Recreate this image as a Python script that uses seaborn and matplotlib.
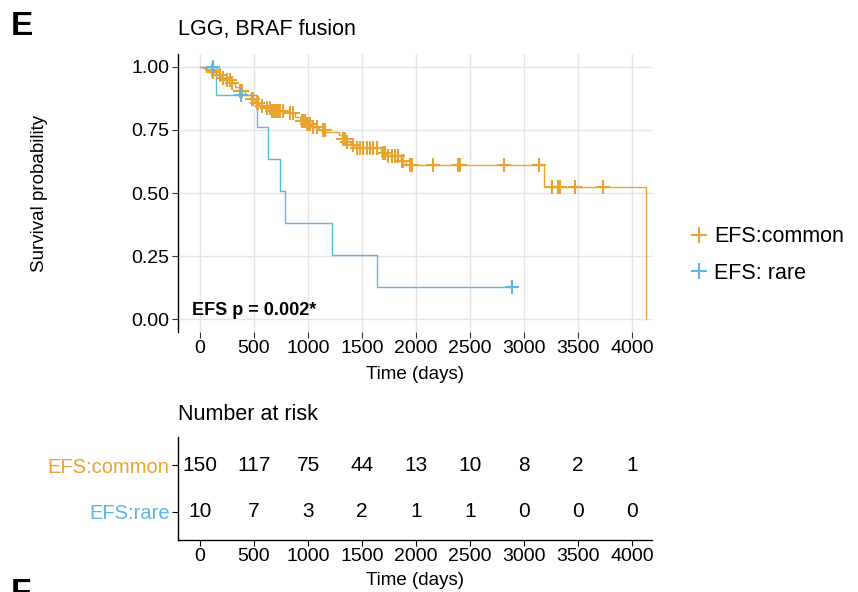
import numpy as np
import pandas as pd
import matplotlib
matplotlib.use("Agg")
import matplotlib.pyplot as plt
from matplotlib.lines import Line2D
import seaborn as sns

sns.set_theme(style="white")
plt.rcParams['font.family'] = ['Liberation Sans', 'DejaVu Sans']
plt.rcParams['text.color'] = 'black'
plt.rcParams['axes.labelcolor'] = 'black'
plt.rcParams['xtick.color'] = 'black'
plt.rcParams['ytick.color'] = 'black'

# ---------------- data ----------------
groups = ["EFS:common", "EFS: rare"]
risk_labels = ["EFS:common", "EFS:rare"]
colors = ["#E8A42E", "#5DB6E6"]

# common group: step curve (time, survival after step)
common_t = [0, 30, 60, 110, 150, 190, 230, 280, 320, 370, 420, 470, 510, 550, 600,
            650, 830, 880, 930, 980, 1030, 1100, 1160, 1290, 1320, 1350, 1400, 1440,
            1680, 1720, 1860, 1910, 3183, 4130]
common_s = [1.0, 0.993, 0.987, 0.98, 0.967, 0.955, 0.946, 0.935, 0.92, 0.905, 0.888,
            0.872, 0.858, 0.845, 0.835, 0.825, 0.815, 0.80, 0.785, 0.772, 0.762, 0.75,
            0.74, 0.728, 0.712, 0.70, 0.688, 0.678, 0.66, 0.645, 0.628, 0.611, 0.524, 0.0]
common_cens = [108, 123, 185, 216, 247, 278, 293, 370, 386, 478, 494, 525, 540, 571,
               617, 648, 663, 679, 694, 710, 725, 741, 772, 833, 864, 941, 957, 972,
               988, 1003, 1018, 1049, 1080, 1142, 1157, 1327, 1343, 1358, 1420, 1451,
               1481, 1512, 1543, 1574, 1605, 1636, 1697, 1713, 1744, 1775, 1806, 1836,
               1867, 1883, 1944, 1965, 2160, 2386, 2407, 2815, 3142, 3259, 3312, 3333,
               3472, 3728]

# rare group
rare_t = [0, 145, 530, 627, 744, 787, 1225, 1636, 2889]
rare_s = [1.0, 0.889, 0.762, 0.635, 0.508, 0.381, 0.254, 0.127, 0.127]
rare_cens = [120, 377, 2889]

# number at risk
risk_times = [0, 500, 1000, 1500, 2000, 2500, 3000, 3500, 4000]
risk_common = [150, 117, 75, 44, 13, 10, 8, 2, 1]
risk_rare = [10, 7, 3, 2, 1, 1, 0, 0, 0]

x_ticks = [0, 500, 1000, 1500, 2000, 2500, 3000, 3500, 4000]
y_ticks = [0.0, 0.25, 0.5, 0.75, 1.0]
y_ticklabels = ["0.00", "0.25", "0.50", "0.75", "1.00"]


def surv_at(times, survs, q):
    idx = np.searchsorted(np.asarray(times), np.asarray(q), side="right") - 1
    return np.asarray(survs)[idx]


# ---------------- figure ----------------
fig = plt.figure(figsize=(8.58, 5.92), dpi=100)
W, H = 858, 592


def box(l, t, r, b):
    return [l / W, 1 - b / H, (r - l) / W, (b - t) / H]


ax = fig.add_axes(box(178, 54, 652, 332))
axr = fig.add_axes(box(178, 437, 652, 540))

curves = [(common_t, common_s, common_cens), (rare_t, rare_s, rare_cens)]
for (t, s, c), col, g in zip(curves, colors, groups):
    df = pd.DataFrame({"time": t, "surv": s})
    sns.lineplot(data=df, x="time", y="surv", ax=ax, color=col, lw=1.0,
                 drawstyle="steps-post", estimator=None, sort=False, legend=False)
    cdf = pd.DataFrame({"time": c, "surv": surv_at(t, s, c)})
    sns.scatterplot(data=cdf, x="time", y="surv", ax=ax, color=col, marker="+",
                    s=110, linewidth=1.5, legend=False, zorder=3)

ax.set_xlim(-204, 4185)
ax.set_ylim(-0.05, 1.05)
ax.set_xticks(x_ticks)
ax.set_yticks(y_ticks)
ax.set_yticklabels(y_ticklabels)
ax.grid(True, color="#E5E5E5", lw=1.0)
ax.set_axisbelow(True)
for sp in ["top", "right", "bottom"]:
    ax.spines[sp].set_visible(False)
ax.spines["left"].set_color("black")
ax.spines["left"].set_linewidth(1.0)
ax.tick_params(axis="both", labelsize=14, length=4, width=0.8, color="#333333",
               left=True, bottom=True, pad=2)
ax.set_xlabel("Time (days)", fontsize=13.5, labelpad=6)
ax.set_ylabel("Survival probability", fontsize=13.5, labelpad=60)
ax.text(-74, 0.0, "EFS p = 0.002*", fontsize=13, fontweight="bold", va="bottom",
        ha="left")
ax.set_title("LGG, BRAF fusion", fontsize=15.5, loc="left", pad=14)

# ---------------- risk table ----------------
axr.set_xlim(-204, 4185)
axr.set_ylim(0.404, 2.596)
for tt, n1, n2 in zip(risk_times, risk_common, risk_rare):
    axr.text(tt, 2, str(n1), ha="center", va="center", fontsize=15)
    axr.text(tt, 1, str(n2), ha="center", va="center", fontsize=15)
axr.set_yticks([2, 1])
axr.set_yticklabels(risk_labels, fontsize=14.5)
for lab, col in zip(axr.get_yticklabels(), colors):
    lab.set_color(col)
axr.set_xticks(x_ticks)
axr.tick_params(axis="x", labelsize=14, length=4, width=0.8, pad=2, bottom=True)
axr.tick_params(axis="y", length=4, width=0.8, pad=2, left=True)
for sp in ["top", "right"]:
    axr.spines[sp].set_visible(False)
for sp in ["left", "bottom"]:
    axr.spines[sp].set_color("black")
    axr.spines[sp].set_linewidth(1.0)
axr.set_xlabel("Time (days)", fontsize=13.5, labelpad=5)
axr.set_title("Number at risk", fontsize=15.5, loc="left", pad=12)

# ---------------- legend ----------------
handles = [Line2D([], [], color=c, marker="+", linestyle="none", markersize=11,
                  markeredgewidth=1.5) for c in colors]
fig.legend(handles, groups, loc="center left", bbox_to_anchor=(669 / W, 1 - 255 / H),
           frameon=False, fontsize=15.5, handletextpad=0.2, labelspacing=0.7,
           handlelength=1.0)

fig.text(11 / W, 1 - 11 / H, "E", fontsize=24, fontweight="bold", va="top", ha="left")
fig.text(11 / W, 1 - 578 / H, "F", fontsize=24, fontweight="bold", va="top", ha="left")

fig.savefig("out.png", dpi=100)
